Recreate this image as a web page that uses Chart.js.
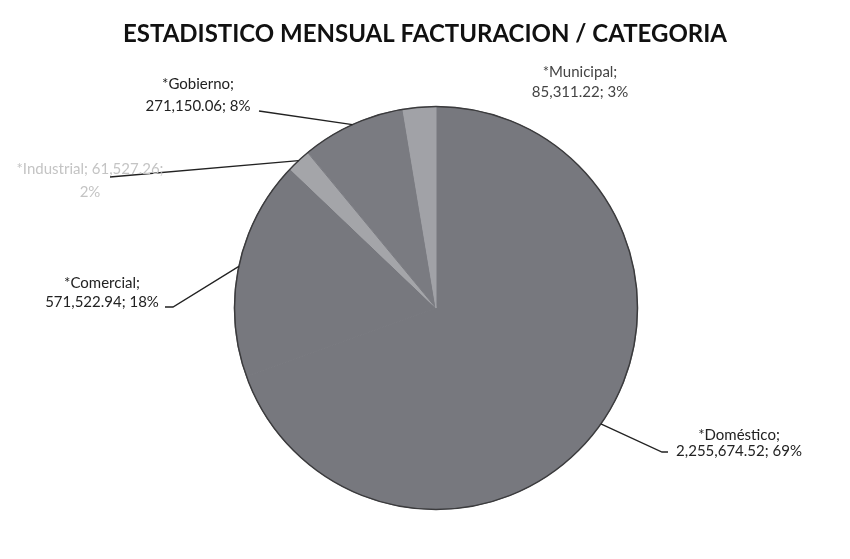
<!DOCTYPE html>
<html>
<head>
<meta charset="utf-8">
<script src="https://cdn.jsdelivr.net/npm/chart.js@4.4.1/dist/chart.umd.min.js"></script>
<style>
  html, body { margin: 0; padding: 0; background: #fff; }
  #wrap { width: 850px; height: 559px; }
</style>
</head>
<body>
<div id="wrap"><canvas id="pieChart" width="850" height="559"></canvas></div>
<script>
//------------------ Data ------------------//
const titulo = 'ESTADISTICO MENSUAL FACTURACION / CATEGORIA';
const categorias = ['*Doméstico', '*Comercial', '*Industrial', '*Gobierno', '*Municipal'];
const montos = [2255674.52, 571522.94, 61527.26, 271150.06, 85311.22];
const porcentajes = ['69%', '18%', '2%', '8%', '3%'];
const colores = ['#77787e', '#77787e', '#a4a5a9', '#7a7b81', '#a1a2a7'];

const fmt = v => v.toLocaleString('en-US', { minimumFractionDigits: 2, maximumFractionDigits: 2 });

// Label placement (layout only): text lines, baselines, leader line anchor
const etiquetas = [
  { lines: [categorias[0] + ';', fmt(montos[0]) + '; ' + porcentajes[0]], x: 739, ys: [440, 456], color: '#222', lead: [[668, 452], [662, 452]] },
  { lines: [categorias[1] + ';', fmt(montos[1]) + '; ' + porcentajes[1]], x: 102, ys: [288, 307], color: '#222', lead: [[165, 307], [173, 307]] },
  { lines: [categorias[2] + '; ' + fmt(montos[2]) + ';', porcentajes[2]], x: 90, ys: [174, 197], color: '#c4c4c4', lead: [[110, 177]] },
  { lines: [categorias[3] + ';', fmt(montos[3]) + '; ' + porcentajes[3]], x: 198, ys: [89, 111], color: '#222', lead: [[259, 111]] },
  { lines: [categorias[4] + ';', fmt(montos[4]) + '; ' + porcentajes[4]], x: 580, ys: [77, 97], color: '#444', lead: null }
];

//------------------ Plugin: title, outline + labels ------------------//
const etiquetasPlugin = {
  id: 'etiquetas',
  afterDatasetsDraw(chart) {
    const ctx = chart.ctx;
    const arcs = chart.getDatasetMeta(0).data;
    const a0 = arcs[0];

    ctx.save();
    // title (drawn here so it is not squeezed by the pie padding)
    ctx.font = 'bold 24px Lato, sans-serif';
    ctx.fillStyle = '#111';
    ctx.textAlign = 'center';
    ctx.textBaseline = 'alphabetic';
    ctx.fillText(titulo, 425, 42);

    // dark outer edge
    ctx.beginPath();
    ctx.arc(a0.x, a0.y, a0.outerRadius, 0, Math.PI * 2);
    ctx.strokeStyle = '#3b3b3d';
    ctx.lineWidth = 1.5;
    ctx.stroke();

    ctx.font = '15px Lato, "Open Sans", sans-serif';

    etiquetas.forEach((et, i) => {
      const arc = arcs[i];
      if (et.lead) {
        const mid = (arc.startAngle + arc.endAngle) / 2;
        const ex = arc.x + Math.cos(mid) * arc.outerRadius;
        const ey = arc.y + Math.sin(mid) * arc.outerRadius;
        ctx.beginPath();
        ctx.moveTo(et.lead[0][0], et.lead[0][1]);
        for (let k = 1; k < et.lead.length; k++) ctx.lineTo(et.lead[k][0], et.lead[k][1]);
        ctx.lineTo(ex, ey);
        ctx.strokeStyle = '#222';
        ctx.lineWidth = 1.3;
        ctx.stroke();
      }
      ctx.fillStyle = et.color;
      et.lines.forEach((t, k) => ctx.fillText(t, et.x, et.ys[k]));
    });
    ctx.restore();
  }
};

//------------------ Chart ------------------//
const ctx = document.getElementById('pieChart').getContext('2d');
const chart = new Chart(ctx, {
  type: 'pie',
  data: {
    labels: categorias,
    datasets: [{
      data: montos,
      backgroundColor: colores,
      borderColor: colores,
      borderWidth: 1
    }]
  },
  options: {
    responsive: false,
    animation: false,
    layout: { padding: { left: 234, right: 212, top: 106, bottom: 49 } },
    plugins: {
      legend: { display: false },
      tooltip: { enabled: false },
      title: { display: false }
    }
  },
  plugins: [etiquetasPlugin]
});
</script>
</body>
</html>
